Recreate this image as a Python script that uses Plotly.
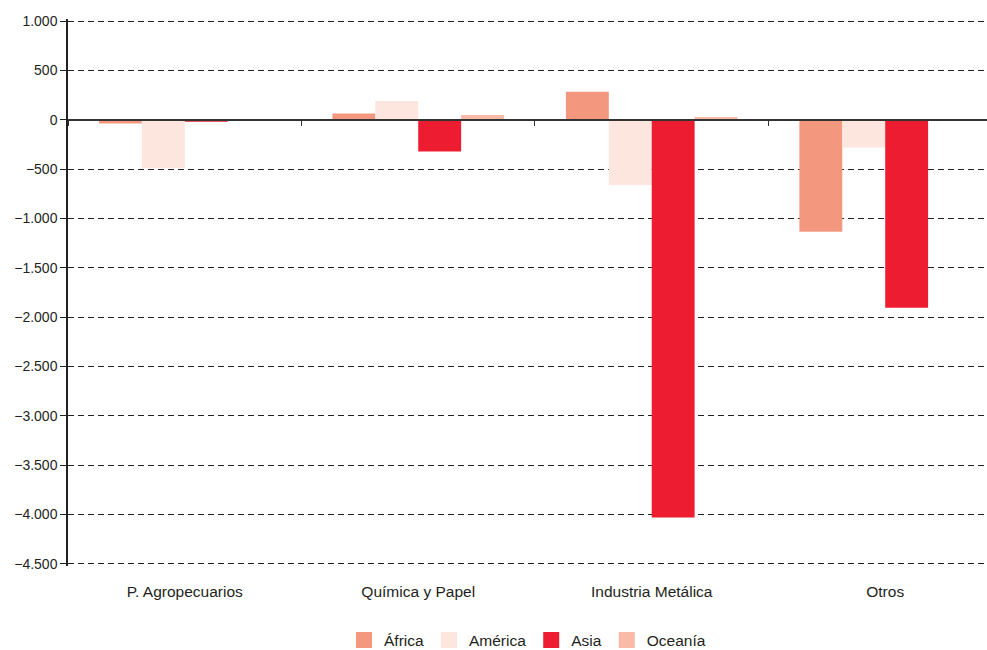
import plotly.graph_objects as go

categories = ["P. Agropecuarios", "Química y Papel", "Industria Metálica", "Otros"]
africa = [-37, 64, 285, -1135]
america = [-490, 190, -660, -280]
asia = [-20, -320, -4030, -1905]
oceania = [0, 50, 30, 0]

series = [
    ("África", africa, "#F4977F"),
    ("América", america, "#FCE6DD"),
    ("Asia", asia, "#ED1C31"),
    ("Oceanía", oceania, "#F9BBA8"),
]

fig = go.Figure()
for name, vals, col in series:
    fig.add_trace(go.Bar(x=categories, y=vals, name=name, showlegend=False,
                         marker=dict(color=col, line=dict(width=0))))

# legend entries with bigger square swatches
for name, vals, col in series:
    fig.add_trace(go.Scatter(x=[None], y=[None], name=name, mode="markers",
                             marker=dict(symbol="square", size=22, color=col)))

# invisible trace to keep the overlaid zero axis alive
fig.add_trace(go.Scatter(x=categories, y=[0, 0, 0, 0], xaxis="x2", mode="lines",
                         line=dict(width=0), showlegend=False, hoverinfo="skip"))

ymin, ymax = -4500, 1000
pad = 22  # keep the end gridlines away from the plot edges so they get drawn
fig.update_layout(
    width=987, height=650,
    margin=dict(l=68, r=0, t=19, b=84, autoexpand=False),
    plot_bgcolor="white", paper_bgcolor="white",
    font=dict(family="Liberation Sans, Arial, sans-serif", size=14, color="#231F20"),
    separators=",.",
    barmode="group", bargap=0.265, bargroupgap=0,
    legend=dict(orientation="h", x=0.5, xanchor="center", y=-0.136, yanchor="middle",
                font=dict(size=15.5), itemwidth=30, traceorder="normal"),
    xaxis=dict(range=[-0.5, 3.436], showline=False, ticks="", showgrid=False,
               zeroline=False, ticklabelstandoff=14, automargin=False,
               tickfont=dict(size=15.5)),
    xaxis2=dict(overlaying="x", matches="x", anchor="free",
                position=(0 - ymin + pad) / (ymax - ymin + 2 * pad), automargin=False,
                showline=True, linecolor="#333", linewidth=1.5,
                ticks="outside", tickson="boundaries", ticklen=5, tickcolor="#333",
                showticklabels=False, showgrid=False, zeroline=False),
    yaxis=dict(range=[ymin - pad, ymax + pad], tickvals=list(range(ymin, ymax + 1, 500)),
               tickformat=",d", automargin=False,
               showline=True, linecolor="#222", linewidth=1.5,
               ticks="outside", ticklen=6, tickcolor="#222",
               showgrid=True, gridcolor="#222", griddash="6px,4px", gridwidth=1.4,
               zeroline=False),
)

fig.write_html("out.html", config={"displayModeBar": False},
               post_script="document.body.style.margin='0';")
